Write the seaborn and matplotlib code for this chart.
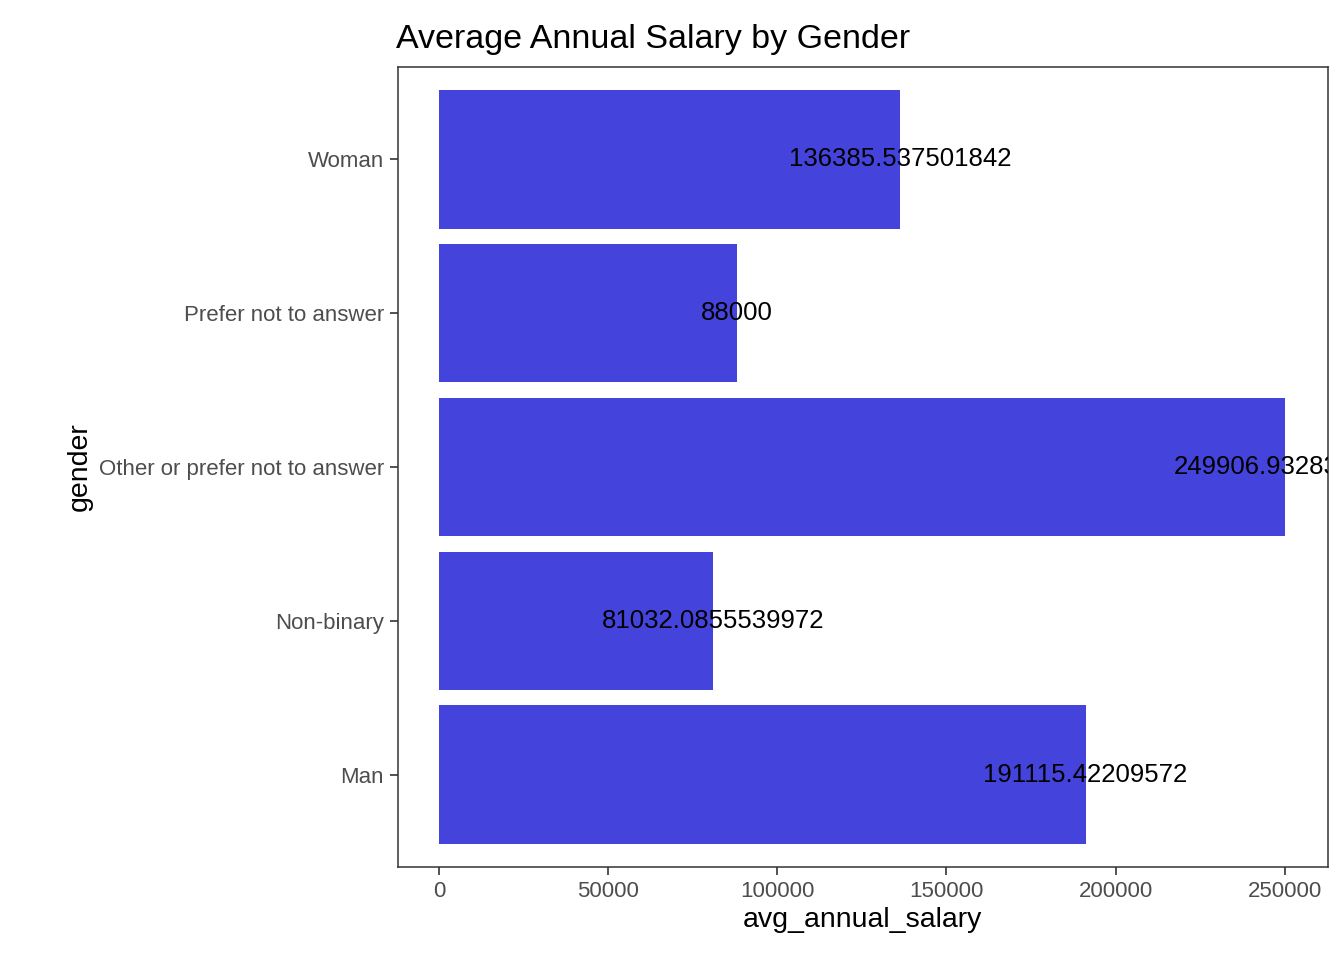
import matplotlib
matplotlib.use("Agg")
import matplotlib.pyplot as plt
import seaborn as sns
import pandas as pd

# top-to-bottom order as shown
genders = ["Woman", "Prefer not to answer", "Other or prefer not to answer", "Non-binary", "Man"]
salaries = [136385.537501842, 88000, 249906.932835821, 81032.0855539972, 191115.42209572]
labels = ["136385.537501842", "88000", "249906.932835821", "81032.0855539972", "191115.42209572"]

df = pd.DataFrame({"gender": genders, "avg_annual_salary": salaries})

sns.set_style("white")
plt.rcParams['font.family'] = ['Liberation Sans', 'DejaVu Sans']

fig = plt.figure(figsize=(13.44, 9.6), dpi=100)
ax = fig.add_axes([0.296, 0.097, 0.692, 0.833])

sns.barplot(data=df, x="avg_annual_salary", y="gender", order=genders,
            color="#4444DD", saturation=1, width=0.9, linewidth=0, ax=ax)

# labels run past the panel edge and get clipped, as in the reference
for i, (v, t) in enumerate(zip(salaries, labels)):
    ax.text(v, i, t, ha="center", va="center", fontsize=18.5, color="black", clip_on=True)

ax.set_xlim(-12116, 262707)
ax.set_ylim(4.6, -0.6)
ax.set_xticks([0, 50000, 100000, 150000, 200000, 250000])
ax.set_xticklabels(["0", "50000", "100000", "150000", "200000", "250000"])
ax.tick_params(axis="both", labelsize=16, labelcolor="#4D4D4D", length=6, width=1.2,
               color="#333333", bottom=True, left=True, pad=4)
ax.set_xlabel("avg_annual_salary", fontsize=20.5, color="black")
ax.set_ylabel("gender", fontsize=20.5, color="black")
for s in ax.spines.values():
    s.set_color("#333333")
    s.set_linewidth(1.1)
ax.set_title("Average Annual Salary by Gender", fontsize=24.5, loc="left", x=-0.002,
             pad=14, color="black")

fig.savefig("out.png", dpi=100)
